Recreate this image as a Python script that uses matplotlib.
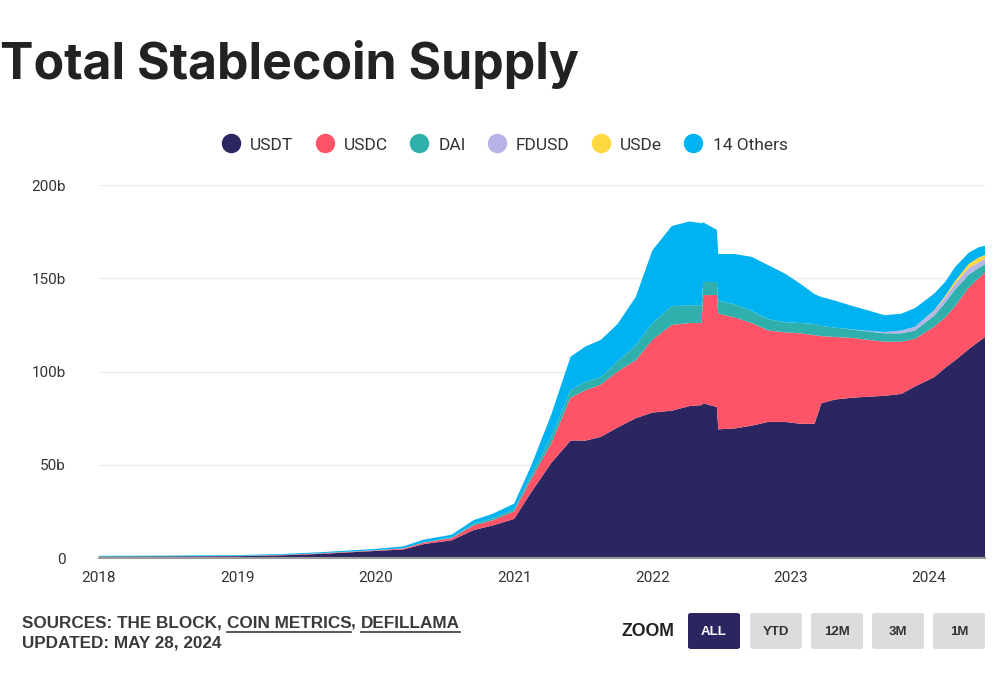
import matplotlib
matplotlib.use("Agg")
import matplotlib.pyplot as plt
import pandas as pd
from matplotlib.lines import Line2D
from matplotlib.patches import FancyBboxPatch

dates = pd.to_datetime([
    '2018-01-01', '2018-07-01', '2019-01-01', '2019-04-20', '2019-08-08',
    '2020-01-01', '2020-03-15', '2020-05-08', '2020-07-20', '2020-09-16',
    '2020-11-06', '2021-01-01', '2021-02-14', '2021-04-09', '2021-05-30',
    '2021-07-09', '2021-08-18', '2021-10-01', '2021-11-18', '2022-01-01',
    '2022-02-21', '2022-04-09', '2022-05-11', '2022-05-15', '2022-06-20',
    '2022-06-24', '2022-08-07', '2022-09-20', '2022-11-03', '2022-12-17',
    '2023-01-27', '2023-03-05', '2023-03-23', '2023-04-28', '2023-06-14',
    '2023-07-24', '2023-09-06', '2023-10-20', '2023-11-25', '2024-01-15',
    '2024-02-13', '2024-03-10', '2024-04-15', '2024-05-11', '2024-05-28'])

# billions
usdt = [0.8, 0.9, 1.0, 1.4, 2.2, 3.8, 4.6, 7.5, 9.5, 15, 17.5, 21, 35, 51, 63,
        63, 65, 70, 75, 78, 79, 81.5, 82, 83, 81, 69, 69.5, 71, 73, 73,
        72, 72, 83, 85, 86, 86.5, 87, 88, 92, 97, 102, 106, 112, 116, 118.5]
usdc = [0, 0, 0.1, 0.2, 0.3, 0.3, 0.6, 0.8, 1.2, 2.5, 2.8, 4, 7, 10.5, 23,
        27, 28, 30, 31, 39, 46, 44.5, 44, 58, 60, 62, 59.5, 55, 49, 48,
        48.5, 47.5, 36, 33.5, 32, 30.5, 29, 28, 25.5, 27, 27, 29, 33, 34, 34.5]
dai = [0.1, 0.1, 0.1, 0.1, 0.1, 0.1, 0.1, 0.1, 0.3, 0.8, 1.0, 1.2, 2, 3.5, 4,
       4.5, 4, 5.5, 8, 9, 10, 9.5, 9.5, 7, 7, 7, 7, 6.5, 6, 5.5,
       5.5, 6, 5.5, 5, 4.5, 4.5, 4.5, 4.5, 4.5, 6, 8, 9, 7, 5.5, 4.5]
fdusd = [0] * 34 + [0.1, 0.3, 0.7, 1.5, 2, 2.5, 2.8, 3, 3.5, 3, 3]
usde = [0] * 39 + [0.3, 0.8, 1.5, 2.2, 2.6, 2]
others = [0.3, 0.3, 0.4, 0.4, 0.5, 0.7, 1.0, 1.5, 1.5, 2.0, 2.5, 3, 5, 12, 18,
          19, 20, 20, 26, 39, 43, 45, 44, 32, 28, 25, 27, 29, 29, 26,
          21, 16, 15.5, 14.5, 12.5, 11, 9, 9, 10, 9, 7.5, 7.5, 6, 5.5, 5]

names = ['USDT', 'USDC', 'DAI', 'FDUSD', 'USDe', '14 Others']
colors = ['#2b2560', '#ff5468', '#2fb0ad', '#b8b3e6', '#ffd740', '#00b2f0']
years = [2018, 2019, 2020, 2021, 2022, 2023, 2024]

fig = plt.figure(figsize=(10, 6.92), dpi=100)
ax = fig.add_axes([0.099, 0.1936, 0.886, 0.539])
ax.stackplot(dates, usdt, usdc, dai, fdusd, usde, others, colors=colors,
             linewidth=0, zorder=2)

ax.set_xlim(dates[0], dates[-1])
ax.set_ylim(0, 200)
ax.set_yticks([0, 50, 100, 150, 200])
ax.set_yticklabels(['0', '50b', '100b', '150b', '200b'])
ax.set_xticks(pd.to_datetime([f'{y}-01-01' for y in years]))
ax.set_xticklabels([str(y) for y in years])
ax.grid(axis='y', color='#ebebeb', linewidth=1, zorder=0)
ax.grid(axis='x', visible=False)
for s in ['top', 'right', 'left']:
    ax.spines[s].set_visible(False)
ax.spines['bottom'].set_color('#9a9a9a')
ax.spines['bottom'].set_linewidth(1.5)
ax.spines['bottom'].set_zorder(3)
ax.tick_params(axis='both', length=0, labelsize=11, labelcolor='#333333',
               labelfontfamily='Roboto')
ax.tick_params(axis='y', pad=24)
ax.tick_params(axis='x', pad=9)

fig.text(0.0, 1 - 79 / 692, 'Total Stablecoin Supply', fontsize=36,
         fontweight='bold', family='Inter', color='#222222', va='baseline',
         ha='left')

handles = [Line2D([], [], marker='o', linestyle='none', markersize=13,
                  markerfacecolor=c, markeredgecolor=c) for c in colors]
fig.legend(handles, names, loc='center', bbox_to_anchor=(0.505, 0.7905),
           ncol=6, frameon=False, handlelength=1.0, handletextpad=0.6,
           columnspacing=1.3, prop={'family': 'Roboto', 'size': 12.5},
           labelcolor='#333333')

# footer: sources with underlined links
fig.canvas.draw()
r = fig.canvas.get_renderer()
parts = [('SOURCES: THE BLOCK, ', False), ('COIN METRICS', True), (', ', False),
         ('DEFILLAMA', True)]
x = 22 / 1000
ybase = 1 - 628 / 692
for txt, ul in parts:
    t = fig.text(x, ybase, txt, fontsize=12.3, fontweight='bold',
                 family='Liberation Sans', color='#3a3a3a', va='baseline')
    bb = t.get_window_extent(renderer=r)
    if ul:
        fig.add_artist(Line2D([bb.x0 / 1000, bb.x1 / 1000],
                              [ybase - 3.5 / 692, ybase - 3.5 / 692],
                              color='#3a3a3a', linewidth=1.2))
    x = bb.x1 / 1000
fig.text(22 / 1000, 1 - 647 / 692, 'UPDATED: MAY 28, 2024', fontsize=12.3,
         fontweight='bold', family='Liberation Sans', color='#3a3a3a',
         va='baseline')

fig.text(622 / 1000, 1 - 631 / 692, 'ZOOM', fontsize=12.8, fontweight='bold',
         family='Liberation Sans', color='#222222', va='center')
buttons = ['ALL', 'YTD', '12M', '3M', '1M']
bx = [688, 750, 811, 872, 933]
for i, (lab, x0) in enumerate(zip(buttons, bx)):
    fc = '#2b2560' if i == 0 else '#dcdcdf'
    tc = 'white' if i == 0 else '#333333'
    fig.add_artist(FancyBboxPatch((x0 / 1000, 1 - 649 / 692), 52 / 1000, 36 / 692,
                                  boxstyle='round,pad=0,rounding_size=0.003',
                                  facecolor=fc, edgecolor='none',
                                  transform=fig.transFigure))
    fig.text((x0 + 26) / 1000, 1 - 632 / 692, lab, fontsize=9.5,
             fontweight='bold', family='Liberation Sans', color=tc,
             ha='center', va='center')

fig.savefig('out.png', dpi=100, facecolor='white')
